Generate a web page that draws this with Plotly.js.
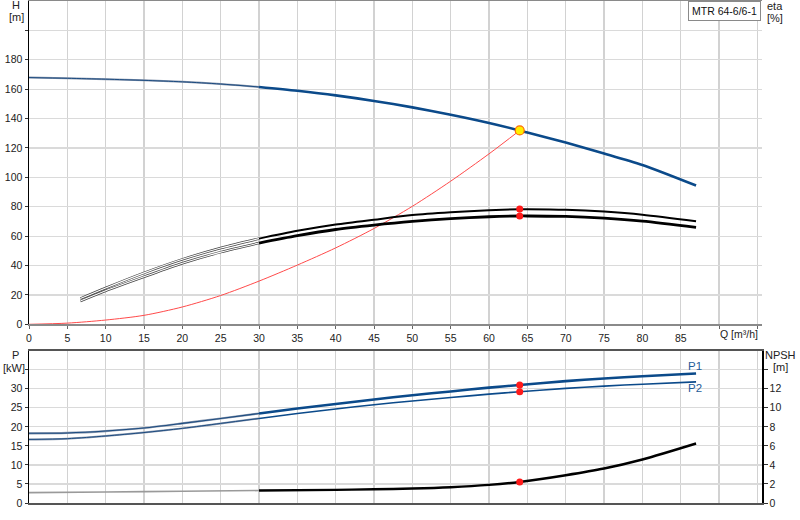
<!DOCTYPE html>
<html>
<head>
<meta charset="utf-8">
<script src="https://cdn.plot.ly/plotly-3.0.1.min.js"></script>
<style>
  html, body { margin: 0; padding: 0; background: #fff; }
  #myDiv { width: 800px; height: 520px; }
</style>
</head>
<body>
<div id="myDiv"></div>
<script>
// head curve
var qH = [0, 5, 10, 15, 20, 25, 30, 35, 40, 45, 50, 55, 60, 64, 65, 70, 75, 80, 87]
var head = [167.9, 167.4, 166.8, 166, 165, 163.5, 161.5, 158.9, 155.8, 152, 147.6, 142.6, 137, 131.9, 130.5, 123.7, 116.3, 108.4, 94.4]

// efficiency curves [%]
var qEta = [6.7, 10, 15, 20, 25, 30, 35, 40, 45, 50, 55, 60, 64, 65, 70, 75, 80, 87]
var eta1 = [17.5, 24.7, 35, 44.2, 51.9, 58.3, 63.6, 67.9, 71.2, 74.3, 76.2, 77.6, 78.3, 78.3, 77.9, 76.7, 74.6, 70.1]
var eta2 = [15.8, 22.8, 32.3, 41.5, 49.1, 55.3, 60.3, 64.5, 67.5, 70, 71.9, 73.2, 73.7, 73.7, 73.4, 72.2, 70.2, 66]

// system curve
var qSys = [0, 5, 10, 15, 20, 25, 30, 35, 40, 45, 50, 55, 60, 64]
var hSys = [0, 0.8, 2.9, 6.1, 11.8, 19.6, 29.4, 40.3, 52, 65.2, 80.3, 97.4, 116, 131.9]

// power [kW]
var qP = [0, 5, 10, 15, 20, 25, 30, 35, 40, 45, 50, 55, 60, 64, 70, 75, 80, 87]
var p1 = [18.3, 18.4, 18.9, 19.7, 20.9, 22.2, 23.5, 24.8, 26, 27.2, 28.3, 29.3, 30.3, 31, 32, 32.7, 33.3, 34]
var p2 = [16.7, 16.9, 17.6, 18.5, 19.6, 20.9, 22.2, 23.5, 24.7, 25.8, 26.8, 27.7, 28.6, 29.2, 30.1, 30.7, 31.2, 31.8]

// NPSH [m]
var qN = [0, 10, 20, 30, 40, 45, 50, 55, 60, 64, 70, 75, 80, 87]
var npsh = [1.09, 1.16, 1.23, 1.31, 1.38, 1.44, 1.52, 1.66, 1.9, 2.21, 2.92, 3.62, 4.57, 6.25]

// duty point
var qDuty = [64]
var hDuty = [131.9]
var etaDuty = [78.4, 73.7]
var pDuty = [31, 29.2]
var npshDuty = [2.21]

var qTicks = [0, 5, 10, 15, 20, 25, 30, 35, 40, 45, 50, 55, 60, 65, 70, 75, 80, 85, 90, 95]
var qLabels = ['0', '5', '10', '15', '20', '25', '30', '35', '40', '45', '50', '55', '60', '65', '70', '75', '80', '85', '', '']
var hTicks = [0, 20, 40, 60, 80, 100, 120, 140, 160, 180, 200]
var hLabels = ['0', '20', '40', '60', '80', '100', '120', '140', '160', '180', '']
var etaTicks = [0, 20, 40, 60, 80, 100]
var pTicks = [0, 5, 10, 15, 20, 25, 30, 35]
var pLabels = ['0', '5', '10', '15', '20', '25', '30', '']
var nTicks = [0, 2, 4, 6, 8, 10, 12, 14]
var nLabels = ['0', '2', '4', '6', '8', '10', '12', '']

var SPLIT = 30

// split a curve into the thin part (Q <= 30) and the bold part (Q >= 30)
function part(xs, ys, lower) {
  var ox = [], oy = []
  for (var i = 0; i < xs.length; i++) {
    if (lower ? xs[i] <= SPLIT : xs[i] >= SPLIT) { ox.push(xs[i]); oy.push(ys[i]) }
  }
  return {x: ox, y: oy}
}

function line(d, xa, ya, color, width) {
  return {x: d.x, y: d.y, xaxis: xa, yaxis: ya, type: 'scatter', mode: 'lines',
    line: {color: color, width: width, shape: 'spline', smoothing: 0.8},
    hoverinfo: 'skip', showlegend: false}
}

var BLUE = '#0b4a8a'
var data = []

// system curve
data.push(line({x: qSys, y: hSys}, 'x', 'y', '#ff4a4a', 1))

// efficiency: hollow thin part, solid bold part
data.push(line(part(qEta, eta1, true), 'x', 'y', '#444', 2.5))
data.push(line(part(qEta, eta1, true), 'x', 'y', '#fff', 1.1))
data.push(line(part(qEta, eta2, true), 'x', 'y', '#444', 2.5))
data.push(line(part(qEta, eta2, true), 'x', 'y', '#fff', 1.1))
data.push(line(part(qEta, eta1, false), 'x', 'y', '#000', 2))
data.push(line(part(qEta, eta2, false), 'x', 'y', '#000', 2.8))

// head
data.push(line(part(qH, head, true), 'x', 'y', '#8c9ab0', 2))
data.push(line(part(qH, head, true), 'x', 'y', '#1d4c80', 1))
data.push(line(part(qH, head, false), 'x', 'y', BLUE, 2.6))

// power
data.push(line(part(qP, p1, true), 'x2', 'y3', '#8c9ab0', 2.2))
data.push(line(part(qP, p1, true), 'x2', 'y3', '#1d4c80', 1.1))
data.push(line(part(qP, p1, false), 'x2', 'y3', BLUE, 2.6))
data.push(line(part(qP, p2, true), 'x2', 'y3', '#8c9ab0', 2))
data.push(line(part(qP, p2, true), 'x2', 'y3', '#1d4c80', 1))
data.push(line(part(qP, p2, false), 'x2', 'y3', BLUE, 1.6))

// NPSH
data.push(line(part(qN, npsh, true), 'x2', 'y4', '#9a9a9a', 1.6))
data.push(line(part(qN, npsh, false), 'x2', 'y4', '#000', 2.4))

// duty point markers
var dot = {color: '#ff1a1a', size: 7}
data.push({x: qDuty, y: hDuty, xaxis: 'x', yaxis: 'y', mode: 'markers', showlegend: false, hoverinfo: 'skip',
  marker: {color: '#ffee00', size: 9, line: {color: '#ff6a00', width: 1.2}}})
data.push({x: [qDuty[0], qDuty[0]], y: etaDuty, xaxis: 'x', yaxis: 'y', mode: 'markers', showlegend: false, hoverinfo: 'skip', marker: dot})
data.push({x: [qDuty[0], qDuty[0]], y: pDuty, xaxis: 'x2', yaxis: 'y3', mode: 'markers', showlegend: false, hoverinfo: 'skip', marker: dot})
data.push({x: qDuty, y: npshDuty, xaxis: 'x2', yaxis: 'y4', mode: 'markers', showlegend: false, hoverinfo: 'skip', marker: dot})

// pixel helpers for the text placed around the frame
function px(v) { return (v - 29) / 733 }
function py(v) { return (503 - v) / 502 }

var FONT = 'Arial, "Liberation Sans", sans-serif'
function txt(t, x, y, color, size) {
  return {text: t, xref: 'paper', yref: 'paper', x: px(x), y: py(y), xanchor: 'center', yanchor: 'middle',
    showarrow: false, font: {family: FONT, size: size || 11, color: color || '#222'}}
}

var TOP = [py(324.3), 1]
var BOT = [0, py(350.7)]
var tickFont = {family: FONT, size: 10.5, color: '#222'}

var layout = {
  width: 800, height: 520,
  margin: {l: 29, r: 38, t: 1, b: 17},
  paper_bgcolor: '#fff', plot_bgcolor: '#fff',
  font: {family: FONT},
  showlegend: false,
  xaxis: {domain: [0, 1], anchor: 'y', range: [0, 95.6], tickvals: qTicks, ticktext: qLabels,
    ticks: 'outside', ticklen: 3, tickcolor: '#666', tickfont: tickFont,
    showgrid: true, gridcolor: '#d2d2d2', gridwidth: 1.2, zeroline: false,
    showline: true, linecolor: '#8a8a8a', linewidth: 2, mirror: true},
  yaxis: {domain: TOP, anchor: 'x', range: [0, 220], tickvals: hTicks, ticktext: hLabels,
    ticks: 'outside', ticklen: 3, tickcolor: '#333', tickfont: tickFont,
    showgrid: true, gridcolor: '#dadada', gridwidth: 1.2, zeroline: false,
    showline: true, linecolor: '#000', linewidth: 1.5},
  yaxis2: {domain: TOP, anchor: 'x', overlaying: 'y', side: 'right', range: [0, 220],
    tickvals: etaTicks, ticks: 'outside', ticklen: 4, tickcolor: '#333', tickfont: tickFont,
    showgrid: false, zeroline: false, showline: true, linecolor: '#000', linewidth: 1.5},
  xaxis2: {domain: [0, 1], anchor: 'y3', matches: 'x', range: [0, 95.6], tickvals: qTicks,
    showticklabels: false, ticks: '',
    showgrid: true, gridcolor: '#d2d2d2', gridwidth: 1.2, zeroline: false,
    showline: true, linecolor: '#555', linewidth: 1.5, mirror: true},
  yaxis3: {domain: BOT, anchor: 'x2', range: [0, 40], tickvals: pTicks, ticktext: pLabels,
    ticks: 'outside', ticklen: 3, tickcolor: '#333', tickfont: tickFont,
    showgrid: true, gridcolor: '#dadada', gridwidth: 1.2, zeroline: false,
    showline: true, linecolor: '#000', linewidth: 1.5},
  yaxis4: {domain: BOT, anchor: 'x2', overlaying: 'y3', side: 'right', range: [0, 16],
    tickvals: nTicks, ticktext: nLabels, ticks: 'outside', ticklen: 4, tickcolor: '#333', tickfont: tickFont,
    showgrid: false, zeroline: false, showline: true, linecolor: '#000', linewidth: 1.5},
  annotations: [
    txt('H', 15.5, 5), txt('[m]', 16.5, 17),
    txt('eta', 775, 6), txt('[%]', 775, 18),
    txt('Q [m³/h]', 739, 334, '#222', 10.5),
    txt('P', 15, 355), txt('[kW]', 14, 367.5),
    txt('NPSH', 780, 355), txt('[m]', 780, 367),
    txt('P1', 695, 365.5, '#1f5c99', 11.5), txt('P2', 695, 387.5, '#1f5c99', 11.5),
    {text: 'MTR 64-6/6-1', xref: 'paper', yref: 'paper', x: px(760.5), y: py(0.5), xanchor: 'right', yanchor: 'top',
      showarrow: false, bgcolor: '#fff', bordercolor: '#8a8a8a', borderwidth: 1, borderpad: 3,
      font: {family: FONT, size: 10.5, color: '#111'}}
  ]
}

Plotly.newPlot('myDiv', data, layout, {staticPlot: true, displayModeBar: false})
</script>
</body>
</html>
